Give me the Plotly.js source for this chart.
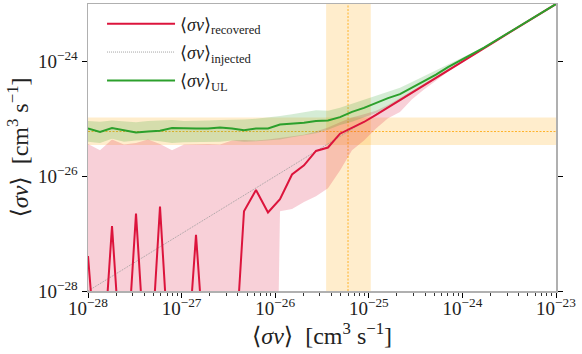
<!DOCTYPE html>
<html>
<head>
<meta charset="utf-8">
<script src="https://cdn.plot.ly/plotly-3.0.1.min.js"></script>
<style>
  html, body { margin: 0; padding: 0; background: #fff; }
  #plot { width: 582px; height: 354px; }
</style>
</head>
<body>
<div id="plot"></div>
<script>
// injected cross section grid (40 log-spaced points, 1e-28 .. 1e-23)
const injected = [
  1.000e-28, 1.344e-28, 1.805e-28, 2.424e-28, 3.257e-28, 4.376e-28, 5.878e-28, 7.897e-28,
  1.061e-27, 1.425e-27, 1.915e-27, 2.573e-27, 3.455e-27, 4.642e-27, 6.236e-27, 8.377e-27,
  1.125e-26, 1.512e-26, 2.031e-26, 2.728e-26, 3.665e-26, 4.924e-26, 6.615e-26, 8.886e-26,
  1.194e-25, 1.604e-25, 2.154e-25, 2.894e-25, 3.888e-25, 5.223e-25, 7.017e-25, 9.427e-25,
  1.266e-24, 1.701e-24, 2.286e-24, 3.070e-24, 4.125e-24, 5.541e-24, 7.444e-24, 1.000e-23
];

// median recovered value (tiny numbers = recovered as ~0)
const recovered = [
  4.07e-28, 1e-30, 1.35e-27, 1e-30, 2.24e-27, 1e-30, 2.95e-27, 1e-30,
  1e-30, 9.5e-28, 1e-30, 1e-30, 1e-30, 2.45e-27, 5.75e-27, 2.34e-27,
  3.98e-27, 1.07e-26, 1.55e-26, 2.75e-26, 3.16e-26, 5.5e-26, 7.0e-26, 8.8e-26,
  1.17e-25, 1.58e-25, 2.12e-25, 2.86e-25, 3.85e-25, 5.18e-25, 6.97e-25, 9.38e-25,
  1.262e-24, 1.70e-24, 2.286e-24, 3.070e-24, 4.125e-24, 5.541e-24, 7.444e-24, 1.000e-23
];
const recoveredLow = [
  1e-40, 1e-40, 1e-40, 1e-40, 1e-40, 1e-40, 1e-40, 1e-40,
  1e-40, 1e-40, 1e-40, 1e-40, 1e-40, 1e-40, 1e-40, 1e-40,
  2.45e-27, 2.69e-27, 3.55e-27, 4.47e-27, 6.17e-27, 1.26e-26, 2.82e-26, 4.17e-26,
  6.76e-26, 1.02e-25, 1.32e-25, 2.19e-25, 3.24e-25, 4.68e-25, 6.61e-25, 8.91e-25,
  1.22e-24, 1.66e-24, 2.25e-24, 3.03e-24, 4.08e-24, 5.50e-24, 7.40e-24, 9.9e-24
];
const recoveredHigh = [
  3.63e-26, 2.82e-26, 4.37e-26, 3.55e-26, 3.80e-26, 4.37e-26, 3.63e-26, 2.82e-26,
  3.55e-26, 3.63e-26, 3.63e-26, 3.55e-26, 4.17e-26, 4.27e-26, 4.17e-26, 4.37e-26,
  4.68e-26, 4.90e-26, 5.25e-26, 6.03e-26, 7.08e-26, 8.71e-26, 1.05e-25, 1.20e-25,
  1.38e-25, 1.74e-25, 2.29e-25, 3.02e-25, 4.07e-25, 5.50e-25, 7.41e-25, 9.55e-25,
  1.29e-24, 1.70e-24, 2.30e-24, 3.08e-24, 4.13e-24, 5.55e-24, 7.45e-24, 1.0e-23
];

// median upper limit and its band
const upperLimit = [
  6.76e-26, 5.89e-26, 6.92e-26, 6.31e-26, 5.75e-26, 6.03e-26, 6.17e-26, 6.92e-26,
  6.76e-26, 6.76e-26, 6.76e-26, 7.08e-26, 6.76e-26, 6.31e-26, 6.76e-26, 6.76e-26,
  7.94e-26, 8.13e-26, 8.51e-26, 9.12e-26, 9.33e-26, 1.07e-25, 1.32e-25, 1.55e-25,
  1.91e-25, 2.29e-25, 2.69e-25, 3.47e-25, 4.47e-25, 5.89e-25, 7.94e-25, 1.02e-24,
  1.32e-24, 1.74e-24, 2.32e-24, 3.10e-24, 4.15e-24, 5.56e-24, 7.46e-24, 1.0e-23
];
const upperLimitLow = [
  3.98e-26, 3.80e-26, 4.47e-26, 3.98e-26, 4.17e-26, 4.27e-26, 4.07e-26, 3.80e-26,
  3.89e-26, 3.89e-26, 3.89e-26, 3.98e-26, 4.17e-26, 3.98e-26, 4.07e-26, 4.27e-26,
  4.37e-26, 4.79e-26, 5.13e-26, 5.62e-26, 6.46e-26, 7.76e-26, 8.91e-26, 1.05e-25,
  1.26e-25, 1.58e-25, 2.00e-25, 2.75e-25, 3.72e-25, 5.13e-25, 6.92e-25, 9.12e-25,
  1.23e-24, 1.66e-24, 2.27e-24, 3.06e-24, 4.11e-24, 5.52e-24, 7.42e-24, 1.0e-23
];
const upperLimitHigh = [
  9.12e-26, 8.91e-26, 9.33e-26, 9.12e-26, 8.71e-26, 9.12e-26, 9.33e-26, 9.55e-26,
  9.12e-26, 9.12e-26, 9.33e-26, 9.55e-26, 9.55e-26, 9.77e-26, 1.0e-25, 1.05e-25,
  1.12e-25, 1.20e-25, 1.32e-25, 1.41e-25, 1.38e-25, 1.55e-25, 1.82e-25, 2.14e-25,
  2.51e-25, 2.88e-25, 3.47e-25, 4.37e-25, 5.50e-25, 6.92e-25, 8.91e-25, 1.12e-24,
  1.41e-24, 1.78e-24, 2.34e-24, 3.12e-24, 4.17e-24, 5.58e-24, 7.48e-24, 1.0e-23
];

// reference value with its band (orange cross)
const refValue = 6.0e-26;
const refLow = 3.5e-26;
const refHigh = 1.05e-25;

const decades = [1e-28, 1e-27, 1e-26, 1e-25, 1e-24, 1e-23];
const xTickText = ['10<sup>−28</sup>', '10<sup>−27</sup>', '10<sup>−26</sup>',
                   '10<sup>−25</sup>', '10<sup>−24</sup>', '10<sup>−23</sup>'];
const yTicks = [1e-28, 1e-26, 1e-24];
const yTickText = ['10<sup>−28</sup>', '10<sup>−26</sup>', '10<sup>−24</sup>'];

const red = '#dc143c';
const green = '#2ca02c';
const orange = '#ffa500';

// minor ticks 2..9 in each decade
const minorTicks = [];
for (let d = 0; d < decades.length - 1; d++) {
  for (let k = 2; k <= 9; k++) minorTicks.push(k * decades[d]);
}

const traces = [
  // recovered band
  { x: injected, y: recoveredLow, mode: 'lines', line: { width: 0 },
    showlegend: false, hoverinfo: 'skip' },
  { x: injected, y: recoveredHigh, mode: 'lines', line: { width: 0 },
    fill: 'tonexty', fillcolor: 'rgba(220,20,60,0.2)', showlegend: false, hoverinfo: 'skip' },
  // upper limit band
  { x: injected, y: upperLimitLow, mode: 'lines', line: { width: 0 },
    showlegend: false, hoverinfo: 'skip' },
  { x: injected, y: upperLimitHigh, mode: 'lines', line: { width: 0 },
    fill: 'tonexty', fillcolor: 'rgba(44,160,44,0.2)', showlegend: false, hoverinfo: 'skip' },
  { x: injected, y: injected, mode: 'lines', name: '⟨<i>σv</i>⟩<sub>injected</sub>',
    line: { color: '#999999', width: 0.9, dash: '1px,1px' }, legendrank: 2, legendgroup: 'b' },
  { x: injected, y: recovered, mode: 'lines', name: '⟨<i>σv</i>⟩<sub>recovered</sub>',
    line: { color: red, width: 2 }, legendrank: 1, legendgroup: 'a' },
  { x: injected, y: upperLimit, mode: 'lines', name: '⟨<i>σv</i>⟩<sub>UL</sub>',
    line: { color: green, width: 2 }, legendrank: 3, legendgroup: 'c' }
];

const layout = {
  width: 582,
  height: 354,
  margin: { l: 88, r: 26, t: 4, b: 63 },
  paper_bgcolor: 'white',
  plot_bgcolor: 'white',
  font: { family: 'Liberation Serif, DejaVu Serif, serif', color: '#222', size: 19 },
  showlegend: true,
  legend: {
    x: 0.03, y: 0.995, xanchor: 'left', yanchor: 'top',
    bgcolor: 'rgba(0,0,0,0)', borderwidth: 0, traceorder: 'grouped',
    font: { size: 18 }, itemwidth: 68, tracegroupgap: 2
  },
  xaxis: {
    type: 'log', range: [-28, -23],
    tickmode: 'array', tickvals: decades, ticktext: xTickText,
    ticks: 'outside', ticklen: 5, tickwidth: 1, tickcolor: 'black',
    ticklabelstandoff: -5,
    showline: true, linecolor: '#b0b0b0', linewidth: 1.5, mirror: true,
    showgrid: false, zeroline: false,
    minor: { tickmode: 'array', tickvals: minorTicks, ticks: 'outside',
             ticklen: 3, tickwidth: 0.8, tickcolor: 'black', showgrid: false },
    title: { text: '⟨<i>σv</i>⟩  [cm<sup>3</sup> s<sup>−1</sup>]',
             font: { size: 24 }, standoff: 2 }
  },
  yaxis: {
    type: 'log', range: [-28, -23],
    tickmode: 'array', tickvals: yTicks, ticktext: yTickText,
    ticks: 'outside', ticklen: 5, tickwidth: 1, tickcolor: 'black',
    showline: true, linecolor: '#b0b0b0', linewidth: 1.5, mirror: 'ticks',
    showgrid: false, zeroline: false,
    title: { text: '⟨<i>σv</i>⟩  [cm<sup>3</sup> s<sup>−1</sup>]',
             font: { size: 24 }, standoff: 2 }
  },
  shapes: [
    { type: 'rect', xref: 'x', yref: 'paper', x0: refLow, x1: refHigh, y0: 0, y1: 1,
      fillcolor: 'rgba(255,165,0,0.2)', line: { width: 0 }, layer: 'below' },
    { type: 'rect', xref: 'paper', yref: 'y', x0: 0, x1: 1, y0: refLow, y1: refHigh,
      fillcolor: 'rgba(255,165,0,0.2)', line: { width: 0 }, layer: 'below' },
    { type: 'line', xref: 'x', yref: 'paper', x0: refValue, x1: refValue, y0: 0, y1: 1,
      line: { color: orange, width: 0.8, dash: '2px,1.5px' }, layer: 'below' },
    { type: 'line', xref: 'paper', yref: 'y', x0: 0, x1: 1, y0: refValue, y1: refValue,
      line: { color: orange, width: 0.8, dash: '2px,1.5px' }, layer: 'below' }
  ]
};

Plotly.newPlot('plot', traces, layout, { displayModeBar: false, staticPlot: true });
</script>
</body>
</html>
